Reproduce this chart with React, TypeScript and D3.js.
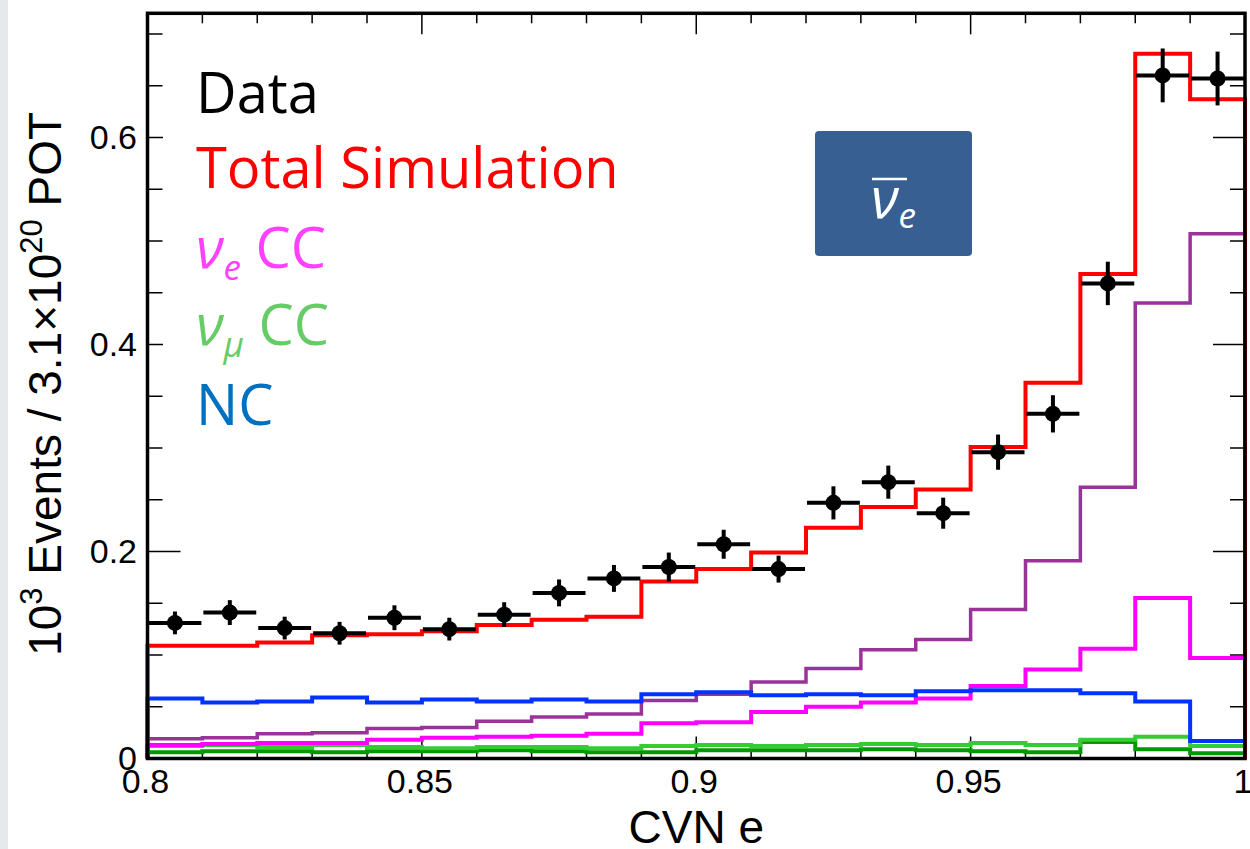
import React, { useEffect, useRef } from 'react';
import * as d3 from 'd3';

// Bin edges of the CVN e histogram
const binEdges = [0.80, 0.81, 0.82, 0.83, 0.84, 0.85, 0.86, 0.87, 0.88, 0.89, 0.90,
  0.91, 0.92, 0.93, 0.94, 0.95, 0.96, 0.97, 0.98, 0.99, 1.00];

// Data points (10^3 events) and their errors
const dataValues = [0.131, 0.141, 0.126, 0.121, 0.136, 0.125, 0.139, 0.160, 0.174, 0.185,
  0.207, 0.183, 0.247, 0.267, 0.237, 0.296, 0.333, 0.459, 0.660, 0.657];
const dataErrors = [0.011, 0.012, 0.011, 0.011, 0.012, 0.011, 0.012, 0.013, 0.013, 0.014,
  0.014, 0.013, 0.016, 0.016, 0.015, 0.017, 0.018, 0.021, 0.026, 0.026];

// Simulation components
const totalSim = [0.109, 0.109, 0.112, 0.119, 0.120, 0.123, 0.129, 0.134, 0.137, 0.171,
  0.183, 0.199, 0.223, 0.243, 0.260, 0.301, 0.363, 0.468, 0.681, 0.637];
const nuebarSignal = [0.019, 0.020, 0.024, 0.025, 0.029, 0.030, 0.036, 0.040, 0.043, 0.056,
  0.062, 0.074, 0.087, 0.105, 0.115, 0.144, 0.191, 0.262, 0.440, 0.507];
const nueCC = [0.013, 0.014, 0.015, 0.015, 0.018, 0.020, 0.021, 0.022, 0.024, 0.034,
  0.035, 0.045, 0.050, 0.054, 0.058, 0.070, 0.086, 0.106, 0.155, 0.097];
const ncBkg = [0.058, 0.054, 0.055, 0.059, 0.054, 0.057, 0.055, 0.057, 0.055, 0.062,
  0.064, 0.061, 0.062, 0.061, 0.065, 0.066, 0.066, 0.063, 0.055, 0.017];
const numuCC = [0.012, 0.013, 0.011, 0.013, 0.011, 0.010, 0.011, 0.011, 0.010, 0.012,
  0.013, 0.012, 0.013, 0.014, 0.013, 0.015, 0.013, 0.018, 0.021, 0.012];
const otherBkg = [0.006, 0.007, 0.007, 0.006, 0.007, 0.007, 0.008, 0.007, 0.006, 0.006,
  0.008, 0.008, 0.008, 0.009, 0.008, 0.007, 0.006, 0.016, 0.009, 0.005];

// Axis ticks
const xMajorTicks = [0.8, 0.85, 0.9, 0.95, 1.0];
const xTickLabels = ['0.8', '0.85', '0.9', '0.95', '1'];
const yMajorTicks = [0, 0.2, 0.4, 0.6];
const yTickLabels = ['0', '0.2', '0.4', '0.6'];
const yMinorTicks = [0.05, 0.1, 0.15, 0.25, 0.3, 0.35, 0.45, 0.5, 0.55, 0.65, 0.7];

const W = 1250;
const H = 849;

function App() {
  const svgRef = useRef<SVGSVGElement | null>(null);

  useEffect(() => {
    if (!svgRef.current) return;
    const svg = d3.select(svgRef.current);
    svg.selectAll('*').remove();

    const left = 147.5, right = 1245, top = 13.3, bottom = 758.5;
    const x = d3.scaleLinear().domain([0.8, 1.0]).range([left, right]);
    const y = d3.scaleLinear().domain([0, 0.72]).range([bottom, top]);

    svg.append('rect').attr('width', W).attr('height', H).attr('fill', '#fff');
    // slide edge strip
    svg.append('rect').attr('x', 0).attr('y', 0).attr('width', 8).attr('height', H).attr('fill', '#e6e8eb');

    const ink = '#000';
    const ticks = svg.append('g').attr('stroke', ink).attr('stroke-width', 1.5);

    // x ticks (bottom & top)
    binEdges.forEach(v => {
      const major = xMajorTicks.some(t => Math.abs(t - v) < 1e-9);
      ticks.append('line')
        .attr('x1', x(v)).attr('x2', x(v))
        .attr('y1', bottom).attr('y2', bottom - (major ? 22 : 8));
      ticks.append('line')
        .attr('x1', x(v)).attr('x2', x(v))
        .attr('y1', top).attr('y2', top + (major ? 21 : 10));
    });
    // y ticks (left & right)
    const yAll = yMajorTicks.map(v => ({ v, major: true }))
      .concat(yMinorTicks.map(v => ({ v, major: false })));
    yAll.forEach(({ v, major }) => {
      ticks.append('line')
        .attr('x1', left).attr('x2', left + (major ? 33 : 15))
        .attr('y1', y(v)).attr('y2', y(v));
      ticks.append('line')
        .attr('x1', right).attr('x2', right - (major ? 32 : 15))
        .attr('y1', y(v)).attr('y2', y(v));
    });

    // histograms
    const stepLine = d3.line<[number, number]>()
      .x(d => x(d[0]))
      .y(d => y(d[1]))
      .curve(d3.curveStepAfter);
    const histPoints = (vals: number[]): [number, number][] => {
      const pts: [number, number][] = [[binEdges[0], 0]];
      vals.forEach((v, i) => pts.push([binEdges[i], v]));
      pts.push([binEdges[binEdges.length - 1], vals[vals.length - 1]]);
      pts.push([binEdges[binEdges.length - 1], 0]);
      return pts;
    };
    const series = [
      { vals: otherBkg, color: '#009a00', w: 4 },
      { vals: numuCC, color: '#33cc33', w: 4 },
      { vals: nueCC, color: '#ff00ff', w: 4 },
      { vals: nuebarSignal, color: '#993399', w: 3.5 },
      { vals: ncBkg, color: '#0033ff', w: 4 },
      { vals: totalSim, color: '#ff0000', w: 4 },
    ];
    const hg = svg.append('g').attr('fill', 'none');
    series.forEach(s => {
      hg.append('path')
        .attr('d', stepLine(histPoints(s.vals)))
        .attr('stroke', s.color)
        .attr('stroke-width', s.w)
        .attr('stroke-linejoin', 'miter');
    });

    // data points with errors
    const dg = svg.append('g');
    dataValues.forEach((v, i) => {
      const lo = binEdges[i], hi = binEdges[i + 1];
      const cx = x((lo + hi) / 2);
      dg.append('line')
        .attr('x1', x(lo) + 1).attr('x2', x(hi) - 1)
        .attr('y1', y(v)).attr('y2', y(v))
        .attr('stroke', ink).attr('stroke-width', 4);
      dg.append('line')
        .attr('x1', cx).attr('x2', cx)
        .attr('y1', y(v - dataErrors[i])).attr('y2', y(v + dataErrors[i]))
        .attr('stroke', ink).attr('stroke-width', 4);
      dg.append('circle')
        .attr('cx', cx).attr('cy', y(v)).attr('r', 8)
        .attr('fill', ink);
    });

    // frame
    svg.append('rect')
      .attr('x', left).attr('y', top)
      .attr('width', right - left).attr('height', bottom - top)
      .attr('fill', 'none').attr('stroke', ink).attr('stroke-width', 3.5);

    // tick labels
    const labelFont = '"Liberation Sans", Arial, sans-serif';
    xMajorTicks.forEach((v, i) => {
      svg.append('text')
        .attr('x', x(v) - 2).attr('y', 793)
        .attr('text-anchor', 'middle')
        .attr('font-family', labelFont).attr('font-size', 34)
        .attr('fill', ink)
        .text(xTickLabels[i]);
    });
    yMajorTicks.forEach((v, i) => {
      svg.append('text')
        .attr('x', 137).attr('y', y(v))
        .attr('dy', '0.35em')
        .attr('text-anchor', 'end')
        .attr('font-family', labelFont).attr('font-size', 34)
        .attr('fill', ink)
        .text(yTickLabels[i]);
    });

    // axis titles
    svg.append('text')
      .attr('x', (left + right) / 2).attr('y', 843)
      .attr('text-anchor', 'middle')
      .attr('font-family', labelFont).attr('font-size', 46)
      .attr('fill', ink)
      .text('CVN e');

    const yTitle = svg.append('text')
      .attr('transform', `translate(61, ${(top + bottom) / 2 - 2}) rotate(-90)`)
      .attr('text-anchor', 'middle')
      .attr('font-family', labelFont).attr('font-size', 46)
      .attr('fill', ink);
    yTitle.append('tspan').text('10');
    yTitle.append('tspan').attr('font-size', 31).attr('dy', -19).text('3');
    yTitle.append('tspan').attr('dy', 19).text(' Events / 3.1\u00d710');
    yTitle.append('tspan').attr('font-size', 31).attr('dy', -19).text('20');
    yTitle.append('tspan').attr('dy', 19).text(' POT');

    // legend (pasted over the plot, hides part of the ticks)
    svg.append('rect')
      .attr('x', 163).attr('y', 66).attr('width', 470).attr('height', 372)
      .attr('fill', '#fff');
    const legFont = '"Open Sans", "Noto Sans", sans-serif';
    const legend = [
      { label: 'Data', color: '#000000', sub: '' },
      { label: 'Total Simulation', color: '#ff0000', sub: '' },
      { label: 'CC', color: '#ff40ff', sub: 'e' },
      { label: 'CC', color: '#66cc66', sub: '\u03bc' },
      { label: 'NC', color: '#0070c0', sub: '' },
    ];
    const baselines = [113, 188, 268, 345, 425];
    legend.forEach((d, i) => {
      const t = svg.append('text')
        .attr('x', 196).attr('y', baselines[i])
        .attr('font-family', legFont).attr('font-size', 56)
        .attr('fill', d.color);
      if (d.sub) {
        t.append('tspan').attr('font-style', 'italic').text('\u03bd');
        t.append('tspan').attr('font-style', 'italic').attr('font-size', 35).attr('dy', 12).text(d.sub);
        t.append('tspan').attr('dy', -12).text(' ' + d.label);
      } else {
        t.text(d.label);
      }
    });

    // antineutrino badge
    svg.append('rect')
      .attr('x', 815).attr('y', 131).attr('width', 157).attr('height', 125)
      .attr('rx', 4).attr('fill', '#375f92');
    const badge = svg.append('text')
      .attr('x', 871).attr('y', 218)
      .attr('font-family', legFont).attr('font-size', 56)
      .attr('fill', '#fff');
    badge.append('tspan').attr('font-style', 'italic').text('\u03bd');
    badge.append('tspan').attr('font-style', 'italic').attr('font-size', 35).attr('dy', 10).text('e');
    svg.append('line')
      .attr('x1', 872).attr('x2', 907).attr('y1', 179).attr('y2', 179)
      .attr('stroke', '#fff').attr('stroke-width', 2.5);
  }, []);

  return (
    <svg
      ref={svgRef}
      width={W}
      height={H}
      style={{ position: 'absolute', left: 0, top: 0, display: 'block' }}
    />
  );
}

export default App;
